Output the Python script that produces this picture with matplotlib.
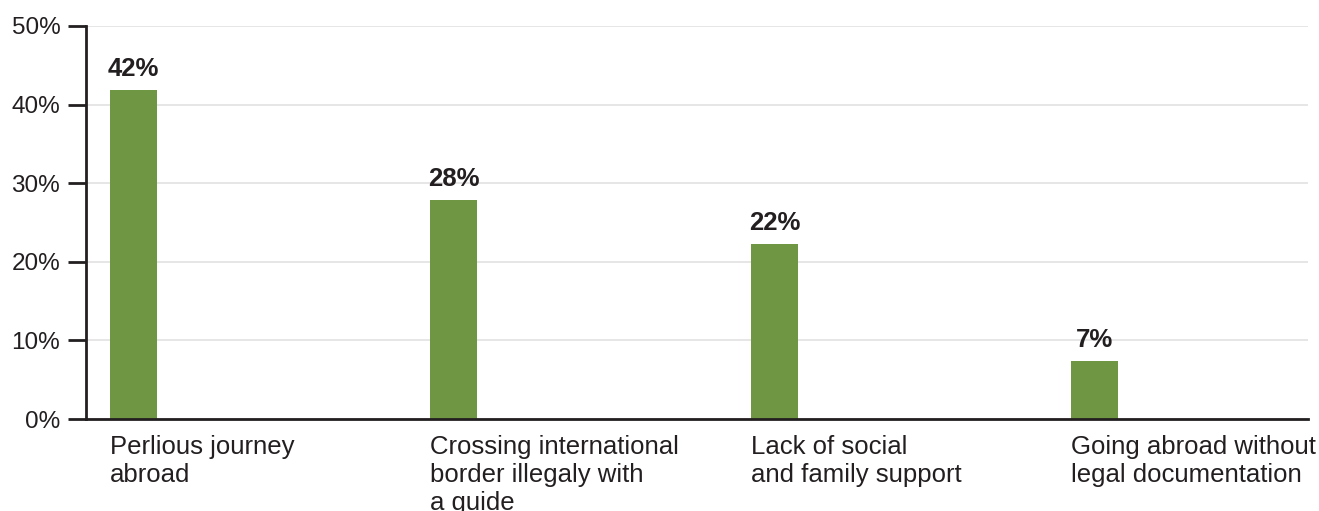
import matplotlib
matplotlib.use("Agg")
import matplotlib.pyplot as plt

categories = ["Perlious journey\nabroad",
              "Crossing international\nborder illegaly with\na guide",
              "Lack of social\nand family support",
              "Going abroad without\nlegal documentation"]
values = [41.9, 27.9, 22.3, 7.4]
yticks = [0, 10, 20, 30, 40, 50]
ytick_labels = ["0%", "10%", "20%", "30%", "40%", "50%"]

plt.rcParams['font.family'] = ['Liberation Sans', 'DejaVu Sans']

fig = plt.figure(figsize=(13.19, 5.11), dpi=100)
ax = fig.add_axes([86/1319, 1 - 419/511, (1308 - 86)/1319, (419 - 26)/511])

green = "#6f9643"
dark = "#231f20"
bw = 0.1466
xs = list(range(len(categories)))
ax.bar(xs, values, width=bw, align='edge', color=green, zorder=3)

for x, v in zip(xs, values):
    ax.text(x + bw/2, v + 1.1, f"{round(v)}%", ha='center', va='bottom',
            fontsize=18.5, fontweight='bold', color=dark)

for x, c in zip(xs, categories):
    ax.text(x, -2.0, c, ha='left', va='top', fontsize=18.5, color=dark,
            linespacing=1.22)

ax.set_xlim(-0.0749, 3.738)
ax.set_ylim(0, 50)
ax.set_yticks(yticks)
ax.set_yticklabels(ytick_labels, fontsize=17.5, color=dark)
ax.set_xticks([])
ax.tick_params(axis='y', direction='out', length=13, width=2, color=dark, pad=5.5)
ax.grid(axis='y', color='#e2e2e2', linewidth=1.2, zorder=0)
for s in ['top', 'right']:
    ax.spines[s].set_visible(False)
for s in ['left', 'bottom']:
    ax.spines[s].set_color(dark)
    ax.spines[s].set_linewidth(2)
    ax.spines[s].set_zorder(4)

fig.savefig("out.png", dpi=100)
